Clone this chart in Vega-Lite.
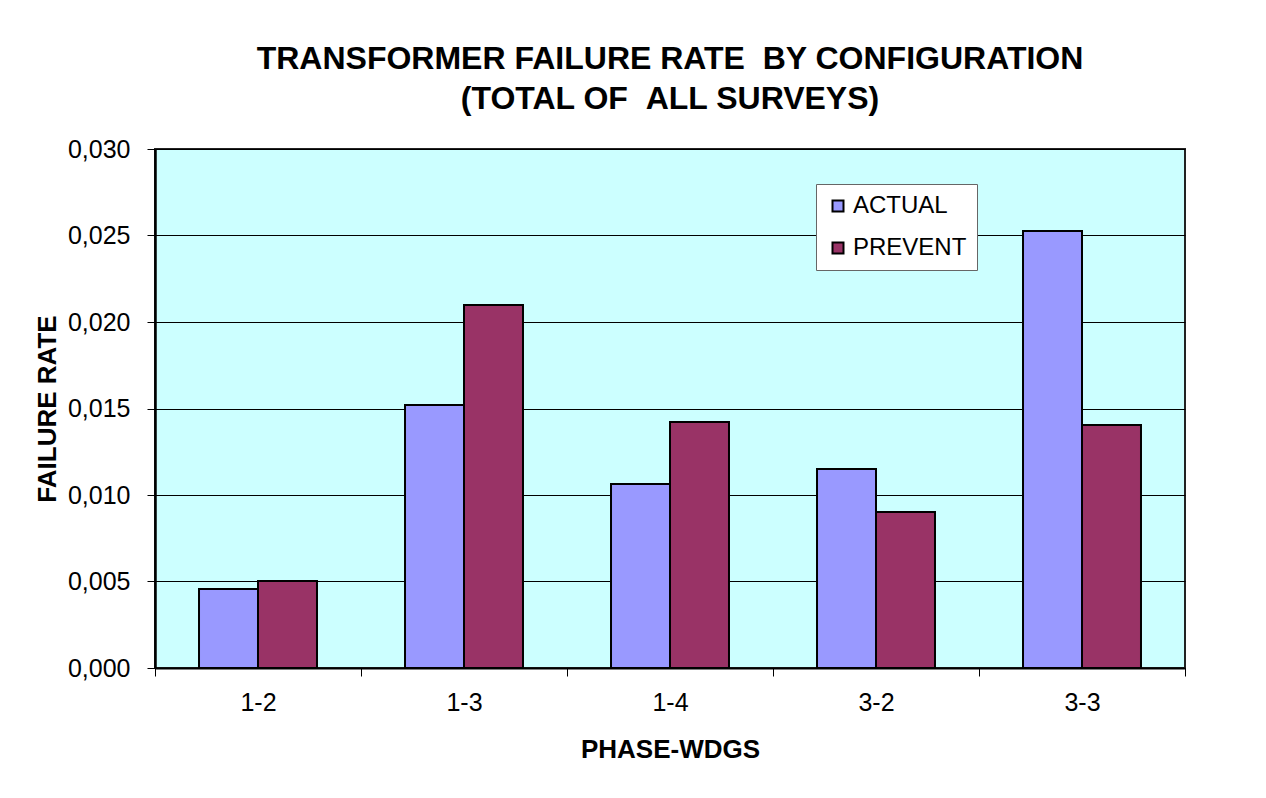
{
  "$schema": "https://vega.github.io/schema/vega-lite/v6.json",
  "autosize": {"type": "none"},
  "width": 1030,
  "height": 519,
  "padding": {"left": 155, "top": 149, "right": 81, "bottom": 130},
  "background": "white",
  "title": {
    "text": ["TRANSFORMER FAILURE RATE \u00a0BY CONFIGURATION", "(TOTAL OF \u00a0ALL SURVEYS)"],
    "font": "Liberation Sans",
    "fontSize": 32,
    "fontWeight": "bold",
    "color": "black",
    "anchor": "middle",
    "lineHeight": 40,
    "offset": 21
  },
  "data": {
    "values": [
      {"config": "1-2", "series": "ACTUAL", "rate": 0.00457},
      {"config": "1-2", "series": "PREVENT", "rate": 0.00503},
      {"config": "1-3", "series": "ACTUAL", "rate": 0.0152},
      {"config": "1-3", "series": "PREVENT", "rate": 0.02098},
      {"config": "1-4", "series": "ACTUAL", "rate": 0.01064},
      {"config": "1-4", "series": "PREVENT", "rate": 0.01422},
      {"config": "3-2", "series": "ACTUAL", "rate": 0.0115},
      {"config": "3-2", "series": "PREVENT", "rate": 0.00902},
      {"config": "3-3", "series": "ACTUAL", "rate": 0.02526},
      {"config": "3-3", "series": "PREVENT", "rate": 0.01405}
    ]
  },
  "mark": {"type": "bar", "stroke": "black", "strokeWidth": 2},
  "encoding": {
    "x": {
      "field": "config",
      "type": "nominal",
      "sort": null,
      "scale": {"paddingInner": 0, "paddingOuter": 0},
      "axis": {
        "title": "PHASE-WDGS",
        "labelAngle": 0,
        "tickBand": "extent",
        "tickSize": 8,
        "tickColor": "black",
        "domainColor": "black",
        "domainWidth": 2,
        "labelPadding": 14,
        "titlePadding": 21
      }
    },
    "xOffset": {
      "field": "series",
      "type": "nominal",
      "scale": {"paddingInner": 0, "paddingOuter": 0.746}
    },
    "y": {
      "field": "rate",
      "type": "quantitative",
      "scale": {"domain": [0, 0.03], "nice": false},
      "axis": {
        "title": "FAILURE RATE",
        "values": [0, 0.005, 0.01, 0.015, 0.02, 0.025, 0.03],
        "labelExpr": "replace(format(datum.value, '.3f'), '.', ',')",
        "tickSize": 8,
        "tickColor": "black",
        "domainColor": "black",
        "domainWidth": 2.5,
        "grid": true,
        "gridColor": "black",
        "gridWidth": 1,
        "labelPadding": 17,
        "titlePadding": 7
      }
    },
    "color": {
      "field": "series",
      "type": "nominal",
      "scale": {"domain": ["ACTUAL", "PREVENT"], "range": ["#9999FF", "#993366"]},
      "legend": {
        "title": null,
        "orient": "none",
        "legendX": 661,
        "legendY": 35,
        "fillColor": "white",
        "strokeColor": "#666666",
        "padding": 10,
        "symbolType": "square",
        "symbolSize": 121,
        "symbolStrokeColor": "black",
        "symbolStrokeWidth": 2,
        "symbolOpacity": 1,
        "labelFont": "Liberation Sans",
        "labelFontSize": 24,
        "labelColor": "black",
        "labelOffset": 3,
        "rowPadding": 18
      }
    }
  },
  "config": {
    "font": "Liberation Sans",
    "view": {"fill": "#CCFFFF", "stroke": "#222222", "strokeWidth": 2},
    "axis": {
      "labelFont": "Liberation Sans",
      "labelFontSize": 25,
      "labelColor": "black",
      "titleFont": "Liberation Sans",
      "titleFontSize": 26,
      "titleFontWeight": "bold",
      "titleColor": "black"
    }
  }
}
